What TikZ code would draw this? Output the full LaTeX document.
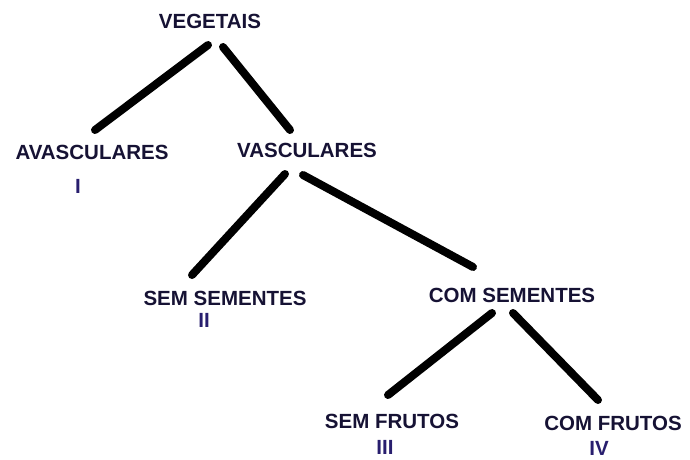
\documentclass[tikz,border=0pt]{standalone}
\usepackage{fontspec}
\setmainfont{Liberation Sans}
\usepackage{tikz}
\usetikzlibrary{
  calc
}
\definecolor{labelnavy}{RGB}{22,18,52}
\definecolor{numnavy}{RGB}{40,30,110}

\begin{document}
\begin{tikzpicture}[line cap=round,line join=round,x=1pt,y=-1pt,
  taxon/.style={inner sep=0pt,text=labelnavy,font=\fontsize{20.5}{24}\selectfont\bfseries},
  grupo/.style={inner sep=0pt,text=numnavy,font=\fontsize{20.5}{24}\selectfont\bfseries},
  ramo/.style={line width=8pt,black}]
\useasboundingbox (0,0) rectangle (690,459);
% taxa
\node[taxon] (veg) at (210,21) {VEGETAIS};
\node[taxon] (avasc) at (92,152) {AVASCULARES};
\node[grupo] (gI) at (78,186) {I};
\node[taxon] (vasc) at (307,150) {VASCULARES};
\node[taxon] (semsem) at (225,298) {SEM SEMENTES};
\node[grupo] (gII) at (204,320) {II};
\node[taxon] (comsem) at (512,295) {COM SEMENTES};
\node[taxon] (semfr) at (392,421) {SEM FRUTOS};
\node[grupo] (gIII) at (385,447) {III};
\node[taxon] (comfr) at (613,423) {COM FRUTOS};
\node[grupo] (gIV) at (599,448) {IV};
% ramos
\draw[ramo] ([shift={(-2,24)}]veg.center) -- ([shift={(3,-22)}]avasc.center);
\draw[ramo] ([shift={(13,26)}]veg.center) -- ([shift={(-17,-20)}]vasc.center);
\draw[ramo] ([shift={(-22,24)}]vasc.center) -- ([shift={(-33,-23)}]semsem.center);
\draw[ramo] ([shift={(-4,25)}]vasc.center) -- ([shift={(-39,-28)}]comsem.center);
\draw[ramo] ([shift={(-20,18)}]comsem.center) -- ([shift={(-4,-26)}]semfr.center);
\draw[ramo] ([shift={(1,18)}]comsem.center) -- ([shift={(-15,-23)}]comfr.center);
\end{tikzpicture}
\end{document}
